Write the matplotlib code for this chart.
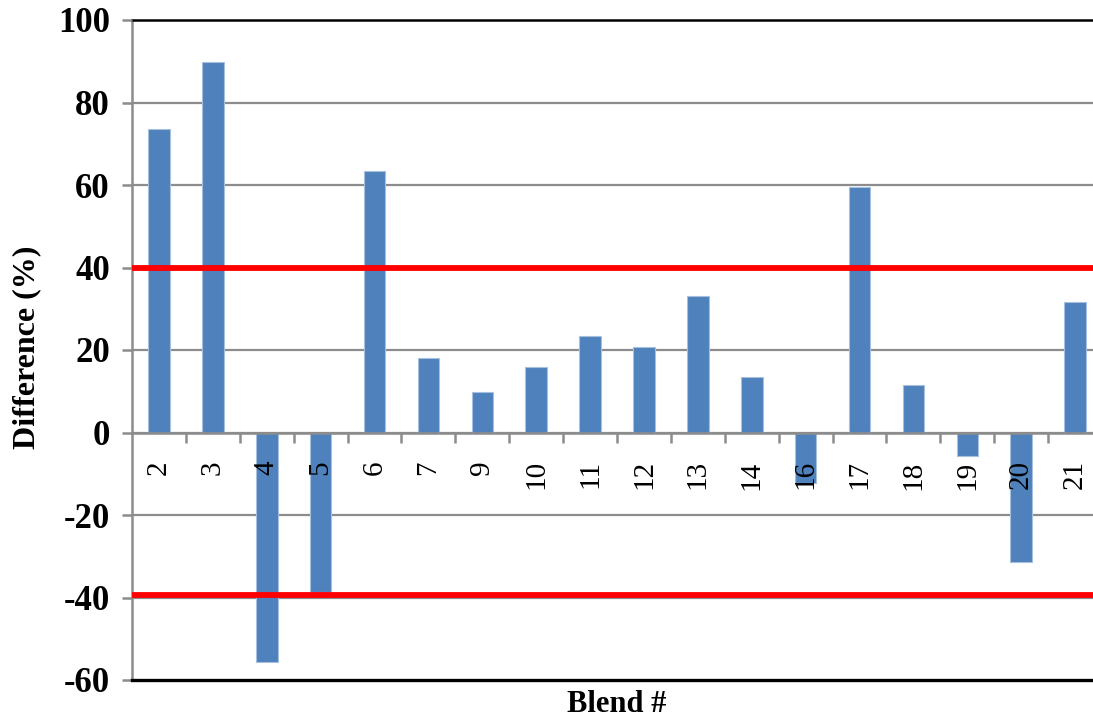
#!/usr/bin/env python3

import numpy as np
from matplotlib import pyplot as plt
from matplotlib.ticker import FixedLocator

BLENDS = ["2", "3", "4", "5", "6", "7", "9", "10", "11", "12", "13", "14",
          "16", "17", "18", "19", "20", "21"]
DIFFERENCE = [73.5, 89.7, -55.6, -38.6, 63.4, 18.1, 9.7, 15.9, 23.3, 20.7,
              33.2, 13.4, -12.2, 59.5, 11.6, -5.7, -31.5, 31.7]
LIMITS = [40, -39.5]
Y_TICKS = [-60, -40, -20, 0, 20, 40, 60, 80, 100]

BAR_COLOR = "#4f81bd"
GRID_COLOR = "#8c8c8c"
SERIF = ["Liberation Serif", "DejaVu Serif"]


def main():
    plt.rcParams["font.family"] = SERIF
    fig = plt.figure(figsize=(10.93, 7.17), dpi=100)
    # plot area runs slightly past the right edge, as in the original crop
    ax = fig.add_axes((132 / 1093, 37 / 717, 970 / 1093, 660 / 717))

    x = np.arange(len(BLENDS))
    ax.bar(x, DIFFERENCE, width=0.4, color=BAR_COLOR,
           edgecolor="#a7c0de", linewidth=0.8, zorder=2)

    for level in LIMITS:
        ax.axhline(level, color="#ff0000", lw=4.2, zorder=4)

    ax.set_xlim(-0.5, len(BLENDS) - 0.5)
    ax.set_ylim(Y_TICKS[0], Y_TICKS[-1])
    ax.set_yticks(Y_TICKS)
    # gridlines behind the bars, axis (labels, zero line) in front
    ax.set_axisbelow(False)
    for level in Y_TICKS[1:-1]:
        ax.axhline(level, color=GRID_COLOR, lw=1.6, zorder=0.5)

    # category axis sits on y = 0, labels hang below it
    ax.spines["bottom"].set_position(("data", 0))
    ax.spines["bottom"].set_color(GRID_COLOR)
    ax.spines["bottom"].set_linewidth(1.8)
    ax.spines["left"].set_color(GRID_COLOR)
    ax.spines["left"].set_linewidth(1.8)
    ax.spines["top"].set_color("black")
    ax.spines["top"].set_linewidth(1.8)
    ax.spines["right"].set_visible(False)
    ax.axhline(Y_TICKS[0], color="black", lw=2.4, clip_on=False, zorder=5)

    ax.set_xticks(x)
    ax.set_xticklabels(BLENDS, rotation=90, fontsize=21)
    ax.xaxis.set_minor_locator(FixedLocator(x[:-1] + 0.5))
    ax.tick_params(axis="x", which="major", length=0, pad=20)
    ax.tick_params(axis="x", which="minor", length=7, width=1.8,
                   color=GRID_COLOR, direction="out")

    ax.set_yticklabels([str(v) for v in Y_TICKS], fontsize=25,
                       fontweight="bold")
    ax.tick_params(axis="y", length=7, width=1.8, color=GRID_COLOR, pad=9)

    fig.text(617 / 1093, 1 - 704 / 717, "Blend #", ha="center",
             va="center", fontsize=22, fontweight="bold")
    fig.text(27 / 1093, 1 - 347 / 717, "Difference (%)", ha="center",
             va="center", rotation=90, fontsize=23, fontweight="bold")

    fig.savefig("out.png", dpi=100)


if __name__ == "__main__":
    main()
